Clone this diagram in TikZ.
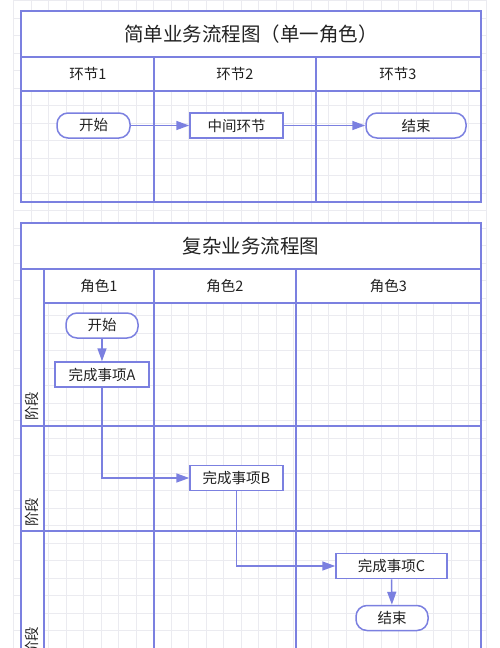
\documentclass[tikz,border=0pt]{standalone}
\usepackage{fontspec}
\setmainfont{Noto Sans CJK SC}
\usetikzlibrary{arrows.meta}

\definecolor{lanecol}{HTML}{7B80E0}
\definecolor{txtcol}{HTML}{222222}
\definecolor{gridcol}{HTML}{EBEBF0}

\begin{document}
\begin{tikzpicture}[x=1pt,y=-1pt,
lane/.style={draw=lanecol, line width=2pt},
blank/.style={fill=white, draw=none},
term/.style={draw=lanecol, line width=1.5pt, fill=white, rounded corners=11pt, minimum height=25pt, text=txtcol, font=\fontsize{14.5}{16}\selectfont},
task/.style={draw=lanecol, line width=1.5pt, fill=white, minimum height=25pt, text=txtcol, font=\fontsize{14.5}{16}\selectfont},
flow/.style={draw=lanecol, line width=1.5pt, -{Triangle[length=13pt,width=9pt]}},
head/.style={text=txtcol, font=\fontsize{14.5}{16}\selectfont},
title/.style={text=txtcol, font=\fontsize{19.5}{22}\selectfont}
]

\def\l{21}
\def\r{481}

\useasboundingbox (0,0) rectangle (500,648);

%%% Grid
\foreach \i in {0,...,27}{
	\pgfmathsetmacro{\gx}{13.5+\i*17.5}
	\draw[gridcol, line width=.6pt] (\gx,0)--(\gx,648);
}
\foreach \i in {0,...,37}{
	\pgfmathsetmacro{\gy}{.3+\i*17.5}
	\draw[gridcol, line width=.6pt] (13.5,\gy)--(486,\gy);
}

%%% Simple
\path[blank] (\l,11) rectangle (\r,91);
\draw[lane] (\l,11) rectangle (\r,202);
\draw[lane] (\l,57)--(\r,57) (\l,91)--(\r,91);
\draw[lane] (154,57)--(154,202) (316,57)--(316,202);
\node[title] (t1) at (251,34) {简单业务流程图（单一角色）};
\foreach[count=\i] \x in {88,235,398}{
	\node[head] (h\i) at (\x,74) {环节\i};
}

\node[term, minimum width=73pt] (s1) at (93.5,125.5) {开始};
\node[task, minimum width=93pt] (m1) at (236.5,125.5) {中间环节};
\node[term, minimum width=100pt] (e1) at (416,125.5) {结束};
\draw[flow] (s1)--(m1);
\draw[flow] (m1)--(e1);

%%% Complex
\path[blank] (\l,223) rectangle (\r,303);
\path[blank] (\l,303) rectangle (44,652);
\draw[lane] (\l,652)--(\l,223)--(\r,223)--(\r,652);
\draw[lane] (\l,269)--(\r,269) (44,303)--(\r,303);
\draw[lane] (\l,426)--(\r,426) (\l,531)--(\r,531);
\draw[lane] (44,269)--(44,652) (154,269)--(154,652) (296,269)--(296,652);
\node[title] (t2) at (251,246) {复杂业务流程图};
\foreach[count=\i] \x in {99,225,388.5}{
	\node[head] (r\i) at (\x,286) {角色\i};
}
\foreach[count=\i] \y in {406,512,641}{
	\node[head, rotate=90] (p\i) at (32,\y) {阶段};
}

\node[term, minimum width=72pt] (s2) at (102,325.5) {开始};
\node[task, minimum width=94pt] (a) at (102,374.5) {完成事项A};
\node[task, minimum width=93pt] (b) at (236.5,478) {完成事项B};
\node[task, minimum width=111pt] (c) at (391.5,566) {完成事项C};
\node[term, minimum width=72pt] (e2) at (392,618) {结束};
\draw[flow] (s2)--(a);
\draw[flow] (a.south)|-(b.west);
\draw[flow] (b.south)|-(c.west);
\draw[flow] (c)--(e2);

\end{tikzpicture}
\end{document}
